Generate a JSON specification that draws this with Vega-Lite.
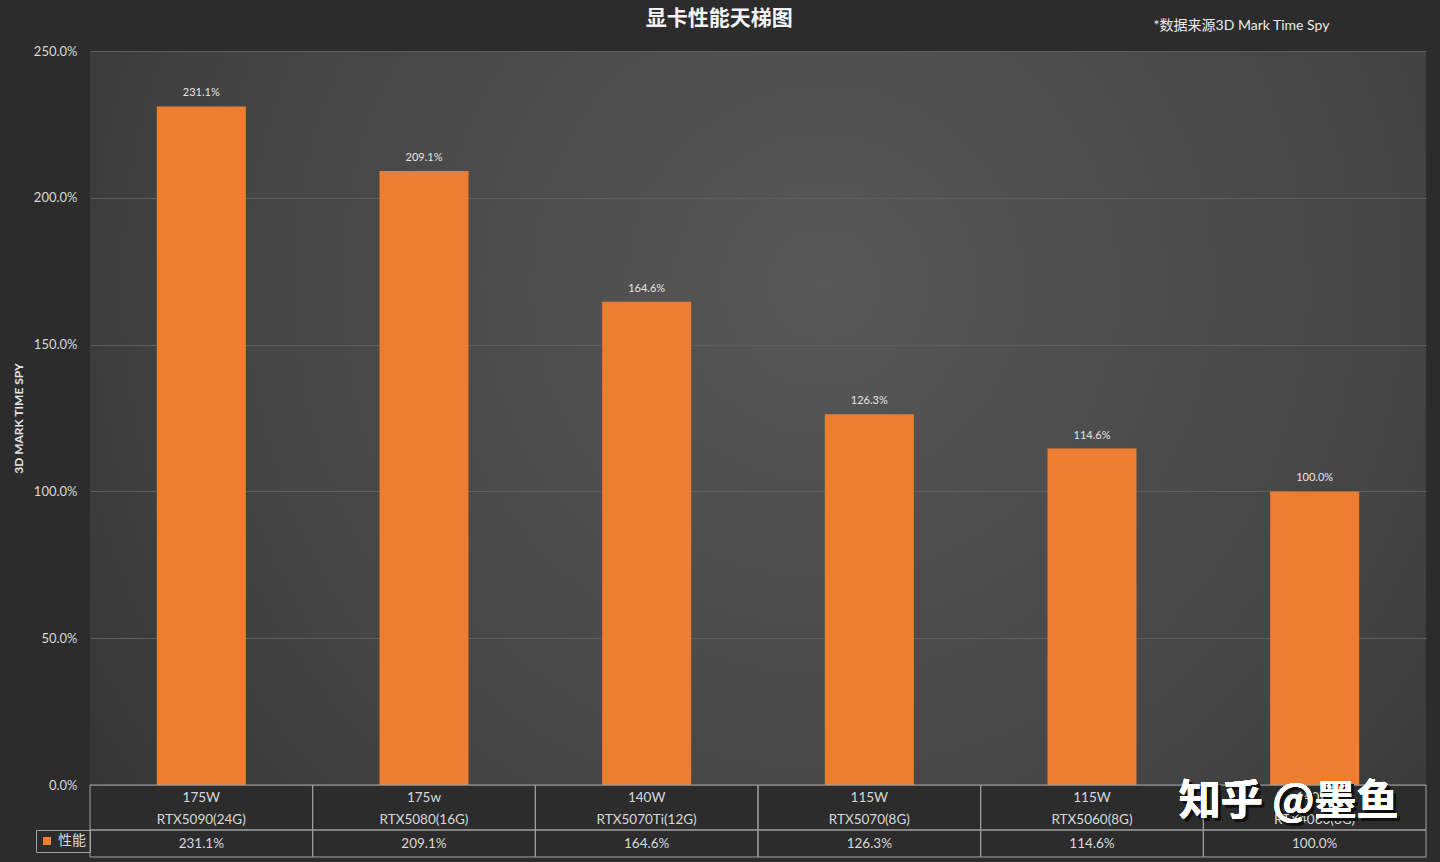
{
  "$schema": "https://vega.github.io/schema/vega-lite/v6.json",
  "background": "#2c2c2c",
  "padding": {"left": 12, "top": 8, "right": 15, "bottom": 5},
  "spacing": 0,
  "bounds": "flush",
  "resolve": {"legend": {"color": "independent"}, "scale": {"x": "independent", "color": "independent"}},
  "datasets": {
    "gpus": [
      {"gpu": "RTX5090(24G)", "power": "175W", "perf": 2.311},
      {"gpu": "RTX5080(16G)", "power": "175w", "perf": 2.091},
      {"gpu": "RTX5070Ti(12G)", "power": "140W", "perf": 1.646},
      {"gpu": "RTX5070(8G)", "power": "115W", "perf": 1.263},
      {"gpu": "RTX5060(8G)", "power": "115W", "perf": 1.146},
      {"gpu": "RTX4060(8G)", "power": "140W", "perf": 1.0}
    ]
  },
  "config": {
    "font": "Lato, Noto Sans CJK SC",
    "view": {"stroke": null}
  },
  "vconcat": [
    {
      "data": {"name": "gpus"},
      "width": 1336,
      "height": 734,
      "title": {"text": "显卡性能天梯图", "frame": "bounds", "anchor": "middle", "fontSize": 21, "font": "Noto Sans CJK SC", "fontWeight": "bold", "color": "#f4f4f4", "offset": -11},
      "view": {
        "fill": {
          "gradient": "radial",
          "x1": 0.55, "y1": 0.4, "r1": 0,
          "x2": 0.55, "y2": 0.4, "r2": 0.75,
          "stops": [
            {"offset": 0, "color": "#575757"},
            {"offset": 0.6, "color": "#444444"},
            {"offset": 1, "color": "#2f2f2f"}
          ]
        },
        "stroke": null
      },
      "encoding": {
        "x": {
          "field": "gpu", "type": "nominal", "sort": null,
          "scale": {"paddingInner": 0.6, "paddingOuter": 0.3},
          "axis": {
            "orient": "top", "labels": false, "ticks": false, "domain": false, "grid": false,
            "title": "*数据来源3D Mark Time Spy",
            "titleFont": "Lato, Noto Sans CJK SC", "titleFontSize": 14, "titleFontWeight": "normal",
            "titleColor": "#ececec", "titleX": 1151, "titleY": -26, "titleAlign": "center", "titleBaseline": "middle"
          }
        },
        "y": {
          "field": "perf", "type": "quantitative",
          "scale": {"domain": [0, 2.5], "nice": false},
          "axis": {
            "values": [0, 0.5, 1, 1.5, 2, 2.5], "format": ".1%",
            "labelColor": "#d9d9d9", "labelFontSize": 13, "labelPadding": 13,
            "ticks": false, "domain": false,
            "gridColor": "#5e5e5e", "gridWidth": 1,
            "title": "3D MARK TIME SPY", "titleFontSize": 12, "titleFontWeight": "bold",
            "titleColor": "#e6e6e6", "titlePadding": 8
          }
        }
      },
      "layer": [
        {"mark": {"type": "bar", "color": "#ED7D31"}},
        {
          "mark": {"type": "text", "dy": -13, "fontSize": 11, "color": "#e6e6e6"},
          "encoding": {"text": {"field": "perf", "format": ".1%"}}
        }
      ]
    },
    {
      "data": {"name": "gpus"},
      "width": 1336,
      "height": 45,
      "encoding": {
        "x": {"field": "gpu", "type": "nominal", "sort": null, "scale": {"paddingInner": 0, "paddingOuter": 0}, "axis": null}
      },
      "layer": [
        {"mark": {"type": "rect", "fill": "transparent", "stroke": "#a0a0a0", "strokeWidth": 1}},
        {
          "mark": {"type": "text", "dy": -10, "fontSize": 13.5, "color": "#d9d9d9"},
          "encoding": {"text": {"field": "power"}}
        },
        {
          "mark": {"type": "text", "dy": 12, "fontSize": 13.5, "color": "#d9d9d9"},
          "encoding": {"text": {"field": "gpu"}}
        },
        {
          "mark": {"type": "text", "dx": -23, "dy": -3, "fontSize": 42, "font": "Noto Sans CJK SC", "fontWeight": "bold", "color": "#111111", "opacity": 0.6},
          "encoding": {
            "x": {"datum": "RTX4060(8G)", "type": "nominal"},
            "text": {"value": "知乎 @墨鱼"}
          }
        },
        {
          "mark": {"type": "text", "dx": -26, "dy": -6, "fontSize": 42, "font": "Noto Sans CJK SC", "fontWeight": "bold", "color": "#ffffff"},
          "encoding": {
            "x": {"datum": "RTX4060(8G)", "type": "nominal"},
            "text": {"value": "知乎 @墨鱼"}
          }
        }
      ]
    },
    {
      "data": {"name": "gpus"},
      "width": 1336,
      "height": 27,
      "layer": [
        {
          "mark": {"type": "rect", "fill": "transparent", "stroke": "#a0a0a0", "strokeWidth": 1},
          "encoding": {
            "x": {"field": "gpu", "type": "nominal", "sort": null, "scale": {"paddingInner": 0, "paddingOuter": 0}, "axis": null}
          }
        },
        {
          "mark": {"type": "text", "fontSize": 13.5, "color": "#d9d9d9"},
          "encoding": {
            "x": {"field": "gpu", "type": "nominal", "sort": null},
            "text": {"field": "perf", "format": ".1%"}
          }
        },
        {
          "data": {"values": []},
          "mark": {"type": "square"},
          "encoding": {
            "color": {
              "datum": "性能", "type": "nominal",
              "scale": {"range": ["#ED7D31"]},
              "legend": {
                "orient": "left", "title": null, "offset": 0,
                "symbolType": "square", "symbolSize": 64, "symbolStrokeWidth": 0, "symbolOpacity": 1,
                "labelFont": "Noto Sans CJK SC", "labelFontSize": 14, "labelColor": "#d9d9d9",
                "strokeColor": "#a0a0a0", "padding": 4, "labelOffset": 4
              }
            }
          }
        }
      ]
    }
  ]
}
